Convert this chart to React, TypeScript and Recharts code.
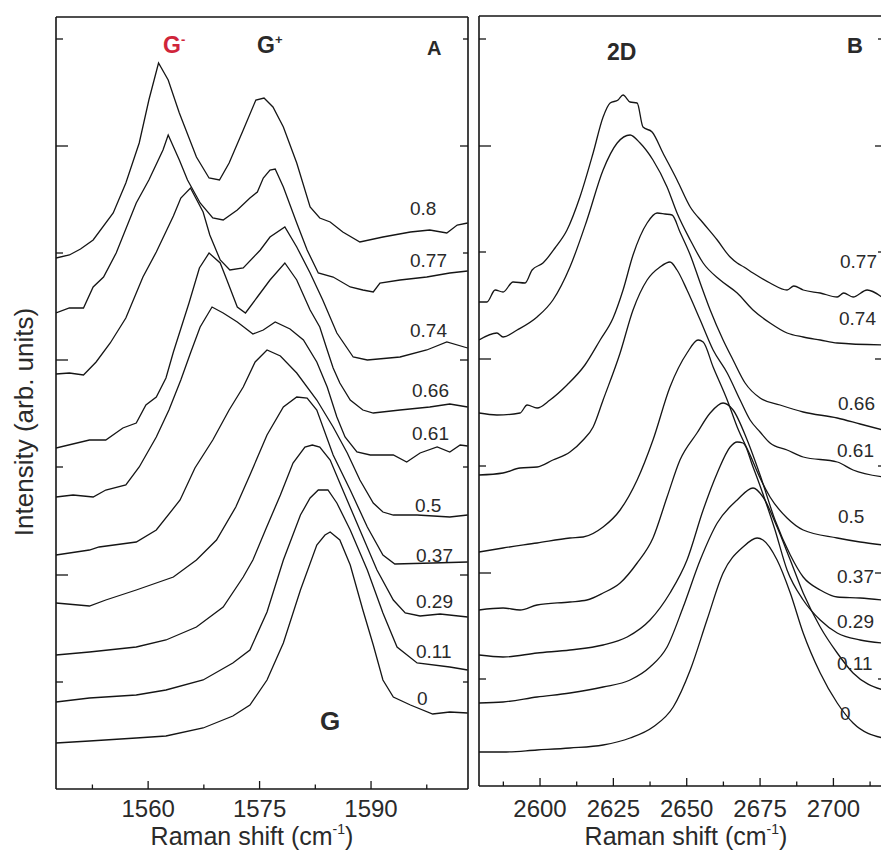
import React from 'react';
import { LineChart, Line, XAxis, YAxis } from 'recharts';

// ---------- Panel A : G band (Raman shift, intensity in arb. units) ----------
const strainsA = ['0.8', '0.77', '0.74', '0.66', '0.61', '0.5', '0.37', '0.29', '0.11', '0'];

const a080w = [1547.6, 1549.4, 1550.9, 1552.6, 1555.3, 1557.0, 1558.8, 1560.1, 1561.4, 1562.7, 1564.2, 1566.5, 1568.2, 1569.6, 1570.9, 1572.8, 1574.5, 1575.6, 1576.8, 1578.2, 1580.0, 1581.8, 1583.1, 1584.5, 1586.2, 1588.5, 1591.6, 1595.3, 1597.9, 1600.2, 1601.6, 1603.0];
const a080i = [531, 534, 540, 549, 576, 606, 646, 689, 726, 709, 676, 632, 611, 609, 626, 659, 689, 691, 682, 662, 626, 582, 571, 567, 557, 547, 552, 557, 559, 556, 564, 566];

const a077w = [1547.6, 1549.4, 1551.3, 1552.6, 1554.0, 1555.7, 1558.4, 1560.1, 1562.0, 1562.7, 1564.2, 1565.3, 1567.0, 1568.7, 1570.1, 1572.0, 1573.7, 1574.7, 1575.5, 1576.4, 1577.1, 1578.2, 1580.0, 1581.4, 1582.9, 1584.9, 1587.2, 1588.9, 1590.3, 1591.2, 1593.9, 1597.5, 1600.6, 1603.0];
const a077i = [476, 481, 481, 502, 512, 536, 586, 609, 639, 654, 629, 609, 586, 571, 569, 579, 591, 597, 611, 619, 620, 602, 566, 539, 516, 512, 502, 499, 497, 506, 509, 512, 516, 518];

const a074w = [1547.6, 1549.4, 1551.3, 1553.0, 1554.9, 1557.0, 1559.3, 1561.1, 1563.4, 1564.4, 1565.7, 1567.4, 1568.3, 1569.7, 1571.0, 1572.8, 1575.1, 1576.4, 1578.4, 1580.0, 1581.8, 1583.5, 1585.4, 1587.6, 1589.5, 1593.9, 1597.5, 1600.2, 1603.0];
const a074i = [415, 416, 414, 427, 446, 471, 512, 537, 573, 591, 601, 577, 554, 529, 519, 521, 539, 552, 562, 542, 516, 489, 456, 432, 429, 432, 439, 447, 441];

const a066w = [1547.6, 1552.1, 1554.3, 1556.6, 1558.4, 1559.7, 1561.1, 1562.4, 1563.4, 1565.5, 1566.9, 1568.2, 1569.7, 1570.6, 1572.0, 1573.1, 1574.7, 1576.4, 1578.4, 1580.0, 1581.8, 1583.1, 1584.1, 1584.9, 1585.8, 1587.2, 1588.9, 1590.3, 1593.9, 1597.9, 1600.6, 1603.0];
const a066i = [341, 349, 349, 361, 366, 384, 392, 411, 437, 486, 521, 536, 526, 509, 482, 476, 492, 509, 526, 509, 479, 462, 439, 421, 406, 389, 379, 376, 379, 382, 385, 382];

const a061w = [1547.6, 1549.9, 1552.6, 1554.3, 1557.0, 1558.8, 1561.1, 1562.8, 1564.4, 1565.7, 1567.0, 1568.6, 1570.1, 1572.0, 1574.1, 1575.5, 1577.1, 1579.1, 1580.9, 1582.7, 1584.1, 1585.4, 1586.5, 1588.1, 1589.9, 1593.0, 1594.8, 1596.6, 1598.9, 1600.6, 1602.0, 1603.0];
const a061i = [292, 294, 292, 299, 304, 322, 352, 379, 409, 436, 462, 482, 476, 467, 455, 459, 467, 460, 449, 427, 402, 372, 352, 337, 334, 334, 327, 336, 342, 337, 344, 343];

const a050w = [1547.6, 1552.1, 1553.4, 1558.4, 1561.1, 1564.3, 1566.3, 1568.7, 1570.9, 1572.8, 1574.4, 1576.0, 1577.8, 1580.0, 1582.7, 1584.9, 1586.8, 1588.5, 1590.3, 1591.6, 1593.0, 1596.2, 1600.6, 1603.0];
const a050i = [234, 239, 242, 247, 259, 289, 321, 349, 379, 402, 427, 439, 433, 416, 389, 362, 336, 309, 286, 277, 274, 274, 272, 274];

const a037w = [1547.6, 1552.1, 1554.3, 1558.4, 1563.4, 1566.5, 1569.2, 1571.8, 1573.7, 1576.0, 1578.2, 1580.0, 1581.4, 1582.7, 1584.9, 1587.2, 1589.5, 1591.6, 1593.2, 1598.3, 1603.0];
const a037i = [186, 183, 189, 199, 212, 229, 249, 282, 314, 354, 382, 392, 391, 379, 334, 299, 262, 234, 225, 226, 227];

const a029w = [1547.6, 1552.1, 1558.4, 1562.4, 1566.5, 1570.1, 1572.8, 1574.1, 1575.9, 1577.8, 1579.5, 1581.1, 1582.1, 1583.1, 1584.5, 1585.8, 1588.5, 1590.8, 1593.0, 1594.6, 1596.6, 1599.3, 1603.0];
const a029i = [134, 137, 142, 149, 162, 182, 212, 229, 261, 294, 326, 342, 344, 342, 329, 306, 259, 219, 189, 176, 173, 175, 172];

const a011w = [1547.6, 1552.1, 1558.4, 1562.4, 1567.4, 1571.4, 1573.7, 1576.0, 1578.2, 1580.5, 1581.8, 1582.9, 1584.2, 1585.4, 1587.2, 1589.5, 1591.6, 1593.5, 1596.2, 1600.6, 1603.0];
const a011i = [87, 91, 94, 99, 109, 126, 139, 177, 229, 274, 291, 299, 299, 286, 259, 219, 176, 142, 126, 122, 119];

const a000w = [1547.6, 1552.1, 1558.4, 1562.4, 1567.4, 1571.4, 1573.7, 1576.0, 1578.2, 1580.5, 1582.7, 1583.8, 1584.5, 1585.8, 1587.2, 1588.9, 1590.3, 1591.6, 1593.0, 1595.3, 1598.3, 1600.6, 1603.0];
const a000i = [46, 48, 51, 53, 61, 73, 84, 109, 146, 199, 244, 254, 257, 249, 224, 179, 144, 109, 92, 84, 75, 77, 76];

// ---------- Panel B : 2D band ----------
const strainsB = ['0.77', '0.74', '0.66', '0.61', '0.5', '0.37', '0.29', '0.11', '0'];

const b077w = [2579.2, 2581.9, 2584.7, 2587.4, 2590.8, 2594.9, 2597.3, 2601.0, 2605.1, 2609.2, 2613.6, 2618.1, 2621.5, 2623.9, 2626.6, 2628.3, 2630.7, 2633.1, 2635.1, 2638.2, 2641.9, 2646.7, 2651.2, 2655.6, 2660.4, 2664.8, 2667.2, 2669.5, 2672.6, 2678.4, 2684.2, 2686.5, 2689.7, 2695.5, 2701.3, 2703.5, 2706.7, 2711.5, 2716.9];
const b077i = [484, 484, 496, 494, 504, 503, 516, 523, 538, 556, 589, 633, 669, 683, 686, 691, 684, 683, 659, 654, 633, 606, 579, 563, 546, 529, 523, 519, 513, 503, 496, 500, 496, 493, 489, 493, 489, 496, 488];

const b074w = [2579.2, 2585.3, 2587.4, 2592.2, 2599.0, 2604.4, 2610.2, 2616.0, 2621.5, 2626.3, 2630.7, 2634.1, 2638.5, 2643.3, 2646.7, 2651.2, 2655.6, 2661.4, 2667.2, 2672.6, 2678.4, 2684.2, 2689.7, 2695.5, 2701.3, 2716.9];
const b074i = [446, 453, 449, 456, 469, 486, 519, 566, 616, 643, 651, 643, 626, 599, 573, 546, 523, 506, 493, 476, 463, 453, 449, 446, 443, 441];

const b066w = [2579.2, 2585.3, 2593.2, 2595.6, 2599.0, 2603.4, 2609.2, 2615.3, 2620.5, 2624.9, 2628.3, 2631.7, 2636.5, 2639.9, 2642.6, 2645.0, 2647.7, 2651.2, 2654.6, 2658.0, 2662.4, 2665.8, 2669.9, 2675.0, 2681.8, 2689.7, 2701.3, 2709.1, 2716.9];
const b066i = [373, 371, 373, 381, 378, 386, 401, 421, 446, 468, 496, 531, 563, 573, 572, 571, 554, 531, 503, 476, 446, 426, 403, 388, 381, 374, 368, 362, 356];

const b061w = [2579.2, 2587.4, 2593.2, 2599.0, 2604.4, 2610.2, 2614.7, 2618.1, 2621.5, 2627.3, 2631.7, 2636.5, 2640.9, 2644.3, 2646.7, 2650.1, 2654.6, 2659.0, 2663.8, 2668.2, 2671.6, 2675.0, 2678.4, 2684.2, 2689.7, 2701.3, 2706.7, 2716.9];
const b061i = [311, 313, 318, 319, 326, 334, 346, 359, 386, 433, 476, 506, 519, 524, 516, 496, 466, 436, 413, 386, 366, 354, 343, 336, 329, 324, 316, 309];

const b050w = [2579.2, 2587.4, 2599.0, 2610.2, 2614.7, 2621.5, 2627.3, 2633.1, 2638.5, 2644.3, 2650.1, 2653.9, 2655.6, 2659.0, 2663.8, 2667.2, 2671.6, 2675.0, 2678.4, 2684.2, 2689.7, 2701.3, 2709.1, 2716.9];
const b050i = [234, 238, 243, 248, 249, 259, 276, 306, 346, 399, 433, 446, 444, 419, 386, 359, 331, 308, 289, 268, 256, 248, 244, 241];

const b037w = [2579.2, 2587.4, 2593.2, 2599.0, 2610.2, 2616.0, 2621.5, 2627.3, 2633.1, 2638.5, 2643.3, 2647.7, 2653.5, 2658.0, 2662.4, 2665.8, 2670.6, 2675.0, 2680.1, 2685.3, 2689.7, 2695.5, 2701.3, 2709.1, 2716.9];
const b037i = [176, 178, 176, 181, 184, 186, 193, 203, 223, 248, 289, 326, 353, 373, 383, 376, 346, 311, 266, 231, 209, 196, 189, 188, 186];

const b029w = [2579.2, 2587.4, 2599.0, 2610.2, 2621.5, 2629.7, 2637.5, 2644.3, 2650.1, 2655.6, 2660.4, 2664.8, 2667.2, 2669.2, 2672.6, 2676.7, 2680.1, 2684.2, 2689.7, 2695.5, 2701.3, 2709.1, 2716.9];
const b029i = [131, 129, 133, 136, 141, 149, 166, 193, 226, 276, 313, 339, 344, 343, 319, 286, 256, 216, 186, 166, 153, 146, 143];

const b011w = [2579.2, 2587.4, 2599.0, 2610.2, 2621.5, 2630.7, 2637.5, 2643.3, 2648.8, 2654.6, 2660.4, 2667.2, 2672.6, 2676.0, 2680.8, 2685.3, 2689.7, 2695.5, 2701.3, 2706.7, 2716.9];
const b011i = [83, 84, 89, 93, 99, 106, 119, 139, 179, 226, 263, 286, 298, 289, 259, 226, 193, 159, 133, 113, 96];

const b000w = [2579.2, 2587.4, 2599.0, 2610.2, 2621.5, 2630.7, 2638.5, 2645.4, 2651.2, 2656.9, 2662.4, 2669.2, 2674.0, 2676.0, 2680.8, 2685.3, 2689.7, 2695.5, 2701.3, 2706.7, 2716.9];
const b000i = [34, 34, 36, 38, 41, 48, 59, 79, 116, 166, 213, 239, 248, 246, 226, 193, 153, 113, 83, 63, 48];

// ---------- Axes ----------
const xTicksA = [1552.5, 1560, 1567.5, 1575, 1582.5, 1590, 1597.5];
const xLabelsA = [1560, 1575, 1590];
const yTicksA = [107, 214, 322, 429, 536, 643, 750];
const xTicksB = [2587.5, 2600, 2612.5, 2625, 2637.5, 2650, 2662.5, 2675, 2687.5, 2700, 2712.5];
const xLabelsB = [2600, 2625, 2650, 2675, 2700];
const yTicksB = [107, 213, 320, 427, 534, 640, 747];

const zip = (w: number[], i: number[]) => w.map((x, k) => ({ w: x, I: i[k] }));

const seriesA = [
  zip(a080w, a080i), zip(a077w, a077i), zip(a074w, a074i), zip(a066w, a066i), zip(a061w, a061i),
  zip(a050w, a050i), zip(a037w, a037i), zip(a029w, a029i), zip(a011w, a011i), zip(a000w, a000i),
].map((data, k) => ({ name: strainsA[k], data }));

const seriesB = [
  zip(b077w, b077i), zip(b074w, b074i), zip(b066w, b066i), zip(b061w, b061i), zip(b050w, b050i),
  zip(b037w, b037i), zip(b029w, b029i), zip(b011w, b011i), zip(b000w, b000i),
].map((data, k) => ({ name: strainsB[k], data }));

const INK = '#151515';
const TXT = '#2a2a2a';
const FONT = '"Liberation Sans", Arial, Helvetica, sans-serif';

const bottomTick = (labels: number[], offset: number) => (p: any) => {
  const v = p.payload.value;
  const major = labels.indexOf(v) >= 0;
  return (
    <g>
      <line x1={p.x} x2={p.x} y1={p.y} y2={p.y - (major ? 8 : 4.5)} stroke={INK} strokeWidth={1.3} />
      {major ? (
        <text x={p.x} y={p.y + offset} textAnchor="middle" fontSize={24} fill={TXT} fontFamily={FONT}>
          {v}
        </text>
      ) : null}
    </g>
  );
};
const topTick = (labels: number[]) => (p: any) => {
  const major = labels.indexOf(p.payload.value) >= 0;
  return <line x1={p.x} x2={p.x} y1={p.y} y2={p.y + (major ? 7 : 5)} stroke={INK} strokeWidth={1.3} />;
};
const leftTick = (ticks: number[]) => (p: any) => {
  const major = ticks.indexOf(p.payload.value) % 2 === 1;
  return <line x1={p.x} x2={p.x + (major ? 12 : 7)} y1={p.y} y2={p.y} stroke={INK} strokeWidth={1.3} />;
};
const rightTick = (ticks: number[]) => (p: any) => {
  const major = ticks.indexOf(p.payload.value) % 2 === 1;
  return <line x1={p.x} x2={p.x - (major ? 8 : 5)} y1={p.y} y2={p.y} stroke={INK} strokeWidth={1.3} />;
};

type PanelProps = {
  series: { name: string; data: { w: number; I: number }[] }[];
  xDomain: [number, number];
  yDomain: [number, number];
  xTicks: number[];
  xLabels: number[];
  yTicks: number[];
  width: number;
  height: number;
  margin: { top: number; right: number; bottom: number; left: number };
  labelOffset: number;
  curve: 'linear' | 'monotone';
};

function Panel(props: PanelProps) {
  const { series, xDomain, yDomain, xTicks, xLabels, yTicks, width, height, margin, labelOffset, curve } = props;
  const axisLine = { stroke: INK, strokeWidth: 1.6 };
  return (
    <LineChart width={width} height={height} margin={margin}>
      <XAxis
        xAxisId="b" type="number" dataKey="w" domain={xDomain} allowDataOverflow ticks={xTicks}
        interval={0} height={30} tickSize={0} tickMargin={0} tickLine={false} axisLine={axisLine}
        tick={bottomTick(xLabels, labelOffset)}
      />
      <XAxis
        xAxisId="t" orientation="top" type="number" domain={xDomain} allowDataOverflow ticks={xTicks}
        interval={0} height={1} tickSize={0} tickMargin={0} tickLine={false} axisLine={axisLine}
        tick={topTick(xLabels)}
      />
      <YAxis
        yAxisId="l" type="number" domain={yDomain} allowDataOverflow ticks={yTicks} interval={0}
        width={1} tickSize={0} tickMargin={0} tickLine={false} axisLine={axisLine} tick={leftTick(yTicks)}
      />
      <YAxis
        yAxisId="r" orientation="right" type="number" domain={yDomain} allowDataOverflow ticks={yTicks}
        interval={0} width={1} tickSize={0} tickMargin={0} tickLine={false} axisLine={axisLine}
        tick={rightTick(yTicks)}
      />
      {series.map((s) => (
        <Line
          key={s.name} name={s.name} xAxisId="b" yAxisId="l" data={s.data} dataKey="I" type={curve}
          stroke={INK} strokeWidth={1.3} dot={false} activeDot={false} isAnimationActive={false}
        />
      ))}
    </LineChart>
  );
}

const labelPosA = [
  [410, 215], [410, 267], [410, 337], [412, 397], [412, 440], [415, 512], [416, 562], [416, 608], [416, 658], [417, 705],
];
const labelPosB = [
  [840, 268], [839, 325], [838, 410], [837, 457], [838, 523], [837, 583], [837, 628], [837, 670], [840, 720],
];

export default function App() {
  return (
    <div
      style={{
        position: 'absolute', left: 0, top: 0, width: 881, height: 851, overflow: 'hidden',
        background: '#ffffff', fontFamily: FONT,
      }}
    >
      <div style={{ position: 'absolute', left: 0, top: 0 }}>
        <Panel
          series={seriesA} xDomain={[1547.6, 1603.05]} yDomain={[0, 772]} xTicks={xTicksA} xLabels={xLabelsA}
          yTicks={yTicksA} width={480} height={851} margin={{ top: 16, right: 11, bottom: 32, left: 55 }}
          labelOffset={28} curve="linear"
        />
      </div>
      <div style={{ position: 'absolute', left: 470, top: 0 }}>
        <Panel
          series={seriesB} xDomain={[2579.2, 2716.9]} yDomain={[0, 770]} xTicks={xTicksB} xLabels={xLabelsB}
          yTicks={yTicksB} width={430} height={851} margin={{ top: 15, right: 16, bottom: 35, left: 8 }}
          labelOffset={31} curve="monotone"
        />
      </div>
      <svg
        width={881} height={851}
        style={{ position: 'absolute', left: 0, top: 0, pointerEvents: 'none' }}
        fontFamily={FONT}
      >
        <text transform="translate(33,422) rotate(-90)" textAnchor="middle" fontSize={26} fill={TXT}>
          Intensity (arb. units)
        </text>
        <text x={252} y={845} textAnchor="middle" fontSize={25} fill={TXT}>
          Raman shift (cm<tspan fontSize={14} dy={-11}>-1</tspan><tspan dy={11}>)</tspan>
        </text>
        <text x={686} y={845} textAnchor="middle" fontSize={25} fill={TXT}>
          Raman shift (cm<tspan fontSize={14} dy={-11}>-1</tspan><tspan dy={11}>)</tspan>
        </text>

        <text x={163} y={53} fontSize={23} fontWeight="bold" fill="#d0253a">
          G<tspan fontSize={13} dy={-9}>-</tspan>
        </text>
        <text x={257} y={53} fontSize={23} fontWeight="bold" fill={TXT}>
          G<tspan fontSize={13} dy={-9}>+</tspan>
        </text>
        <text x={427} y={55} fontSize={20} fontWeight="bold" fill={TXT}>A</text>
        <text x={320} y={730} fontSize={26} fontWeight="bold" fill={TXT}>G</text>
        <text x={607} y={60} fontSize={23} fontWeight="bold" fill={TXT}>2D</text>
        <text x={847} y={53} fontSize={22} fontWeight="bold" fill={TXT}>B</text>

        {strainsA.map((s, k) => (
          <text key={'a' + s} x={labelPosA[k][0]} y={labelPosA[k][1]} fontSize={19} fill={TXT}>{s}</text>
        ))}
        {strainsB.map((s, k) => (
          <text key={'b' + s} x={labelPosB[k][0]} y={labelPosB[k][1]} fontSize={19} fill={TXT}>{s}</text>
        ))}
      </svg>
    </div>
  );
}
